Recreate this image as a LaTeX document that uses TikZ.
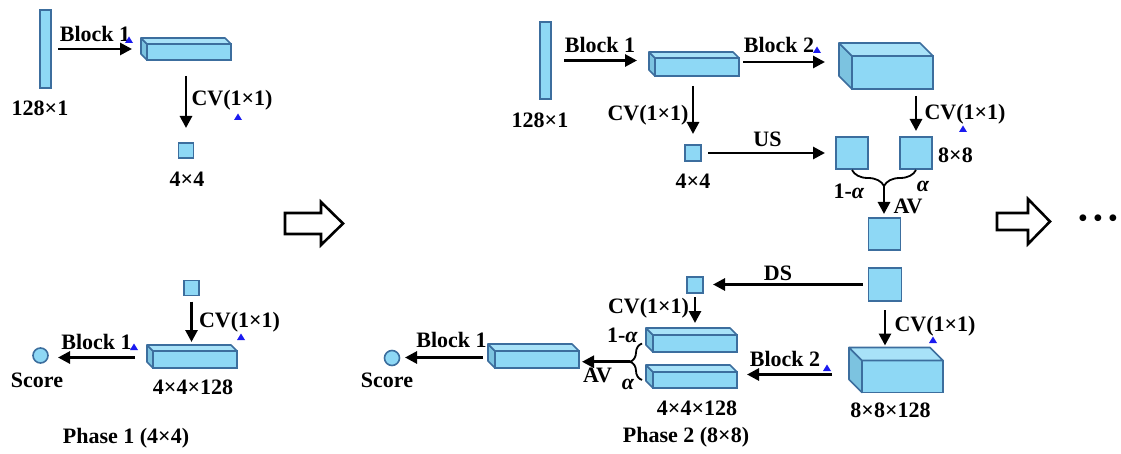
\documentclass[tikz,border=0pt]{standalone}
\usepackage{fontspec}
\setmainfont{Liberation Serif}
\usetikzlibrary{arrows.meta,decorations.pathreplacing,calc}
\definecolor{boxfill}{HTML}{8ED8F5}
\definecolor{boxtop}{HTML}{A8E2F8}
\definecolor{boxside}{HTML}{7CC3E0}
\definecolor{boxline}{HTML}{3C6E9E}
\definecolor{tricol}{HTML}{1A1AF0}
\tikzset{
 face/.style={draw=boxline, fill=boxfill, line width=1.6pt, inner sep=0pt, outer sep=0pt},
 topface/.style={draw=boxline, fill=boxtop, line width=1.6pt, line join=round},
 sideface/.style={draw=boxline, fill=boxside, line width=1.6pt, line join=round},
 arr/.style={line width=2.8pt, -{Triangle[length=12pt,width=12pt]}},
 lbl/.style={font=\bfseries\fontsize{22}{24}\selectfont, inner sep=0pt},
 brc/.style={line width=1.8pt, decorate, decoration={brace, amplitude=#1}},
 hollow/.style={draw=black, line width=2.6pt, fill=white, line join=miter},
 bluetri/.style={fill=tricol},
}
\newcommand{\cuboid}[6]{%
 \node[face, minimum width=#4pt, minimum height=#5pt] (#1) at (#2,#3) {};
 \draw[sideface] (#1.north west) -- ++(-#6,-#6) -- ++(0,#5) -- (#1.south west) -- cycle;
 \draw[topface] (#1.north west) -- ++(-#6,-#6) -- ++(#4,0) -- (#1.north east) -- cycle;
}
\newcommand{\btri}[2]{\fill[bluetri] (#1-4,#2+3) -- (#1+4,#2+3) -- (#1,#2-3.5) -- cycle;}
\begin{document}
\begin{tikzpicture}[x=1pt,y=-1pt]
\useasboundingbox[fill=white] (0,0) rectangle (1121,454);

% ---------------- Phase 1 ----------------
\node[face, minimum width=11pt, minimum height=78pt] (bar1) at (45.5,49) {};
\node[lbl] (t128a) at (40,108) {128×1};
\cuboid{slab1a}{189}{52}{84}{16}{6}
\node[face, minimum size=15pt] (sq1a) at (186,150.5) {};
\node[lbl] (t44a) at (187,179) {4×4};
\draw[arr, shorten <=7pt, shorten >=15pt] (bar1.east) -- (bar1.east -| slab1a.west);
\node[lbl] (tb1a) at (95,34) {Block 1};
\draw[arr, shorten <=16pt, shorten >=15pt] (sq1a.north |- slab1a.south) -- (sq1a.north);
\node[lbl] (tcv1a) at (232,100) {CV(1×1)};

\node[face, minimum size=15pt] (sq1b) at (191.5,288) {};
\cuboid{slab1b}{195}{359.5}{84}{17}{6}
\node[face, circle, minimum size=15pt] (sc1) at (40.5,355.5) {};
\draw[arr, shorten <=6pt, shorten >=9pt] (sq1b.south) -- (sq1b.south |- slab1b.north);
\node[lbl] (tcv1b) at (239.5,322) {CV(1×1)};
\draw[arr, shorten <=18pt, shorten >=10pt] ([yshift=2pt]slab1b.west) -- ([yshift=2pt]slab1b.west -| sc1.east);
\node[lbl] (tb1b) at (96.5,342) {Block 1};
\node[lbl] (t44128a) at (193,387) {4×4×128};
\node[lbl] (tsc1) at (37,380) {Score};
\node[lbl] (tph1) at (126,438) {Phase 1 (4×4)};

\btri{129}{40}
\btri{238}{117}
\btri{134}{347}
\btri{241}{337}

% hollow arrows
\draw[hollow] (285,213) -- (321,213) -- (321,202) -- (343,223.5) -- (321,245) -- (321,234) -- (285,234) -- cycle;
\draw[hollow] (997,213) -- (1028,213) -- (1028,199) -- (1050,221.5) -- (1028,244) -- (1028,230) -- (997,230) -- cycle;
\node[font=\bfseries\fontsize{25}{28}\selectfont, inner sep=0pt] (dots) at (1098,221) {• • •};

% ---------------- Phase 2 top ----------------
\node[face, minimum width=11pt, minimum height=77pt] (bar2) at (545.5,60.5) {};
\node[lbl] (t128b) at (540,120) {128×1};
\cuboid{slab2a}{697}{67}{84}{18}{6}
\cuboid{big2a}{892.5}{72.5}{81}{33}{13}
\node[face, minimum size=16pt] (sq2) at (693,153) {};
\node[face, minimum size=32pt] (sqA) at (852,153) {};
\node[face, minimum size=32pt] (sqB) at (916,153) {};
\node[face, minimum size=32pt] (sqC) at (884.5,234) {};
\node[face, minimum size=33pt] (sqD) at (885,284.5) {};

\draw[arr, shorten <=13pt, shorten >=18pt] (bar2.east) -- (bar2.east -| slab2a.west);
\node[lbl] (tb1c) at (600,45) {Block 1};
\draw[arr, shorten <=4pt, shorten >=27pt] ([yshift=5pt]slab2a.east) -- ([yshift=5pt]slab2a.east -| big2a.west);
\node[lbl] (tb2a) at (779,45) {Block 2};
\draw[arr, shorten <=10pt, shorten >=11pt] (sq2.north |- slab2a.south) -- (sq2.north);
\node[lbl] (tcv2a) at (648,115) {CV(1×1)};
\draw[arr, shorten <=7pt, shorten >=6pt] (sqB.north |- big2a.south) -- (sqB.north);
\node[lbl] (tcv2b) at (965,114) {CV(1×1)};
\node[lbl] (t44b) at (693,181) {4×4};
\draw[arr, shorten <=7pt, shorten >=11pt] (sq2.east) -- (sq2.east -| sqA.west);
\node[lbl] (tus) at (767.5,139) {US};
\node[lbl] (t88) at (955.5,155) {8×8};

\draw[brc=16pt, decoration={mirror}] ([yshift=-1pt]sqA.south) -- ([yshift=-1pt]sqB.south);
\coordinate (bt1) at ($(sqA.south)!0.5!(sqB.south)+(0,17)$);
\draw[arr, shorten >=4pt] (bt1) -- (bt1 |- sqC.north);
\node[lbl] (t1ma) at (849,191) {1-\textit{α}};
\node[lbl] (tala) at (923,186) {\textit{α}};
\node[lbl] (tava) at (908,206) {AV};

% ---------------- Phase 2 bottom ----------------
\node[face, minimum size=16pt] (sq3) at (695,285) {};
\cuboid{slab2b}{695}{343.5}{84}{17}{7}
\cuboid{slab2c}{695}{380}{84}{16}{7}
\cuboid{big2b}{902.5}{376.5}{81}{32}{13}
\cuboid{slab3}{537}{359.5}{84}{17}{7}
\node[face, circle, minimum size=15pt] (sc2) at (392,358) {};

\draw[arr, shorten <=6pt, shorten >=10pt] (sqD.west) -- (sqD.west -| sq3.east);
\node[lbl] (tds) at (778,273) {DS};
\draw[arr, shorten <=4pt, shorten >=12pt] (sq3.south) -- (sq3.south |- slab2b.north);
\node[lbl] (tcv2c) at (648.5,308) {CV(1×1)};
\draw[arr, shorten <=9pt, shorten >=15pt] (sqD.south) -- (sqD.south |- big2b.north);
\node[lbl] (tcv2d) at (935,326) {CV(1×1)};
\draw[arr, shorten <=30pt, shorten >=10pt] ([yshift=2pt]big2b.west) -- ([yshift=2pt]big2b.west -| slab2c.east);
\node[lbl] (tb2b) at (785,359) {Block 2};
\node[lbl] (t44128b) at (697,408) {4×4×128};
\node[lbl] (t88128) at (890.5,410) {8×8×128};

\draw[brc=12pt] ([xshift=-11pt]slab2c.west) -- ([xshift=-11pt]slab2b.west);
\coordinate (bt2) at ($(slab2b.west)!0.5!(slab2c.west)+(-23,0)$);
\draw[arr, shorten >=3pt] (bt2) -- (bt2 -| slab3.east);
\node[lbl] (t1mb) at (622.5,335) {1-\textit{α}};
\node[lbl] (talb) at (628,384) {\textit{α}};
\node[lbl] (tavb) at (597.5,375) {AV};

\draw[arr, shorten <=12pt, shorten >=5.5pt] ([yshift=2pt]slab3.west) -- ([yshift=2pt]slab3.west -| sc2.east);
\node[lbl] (tb1d) at (451.5,340) {Block 1};
\node[lbl] (tsc2) at (387,380) {Score};
\node[lbl] (tph2) at (686,437) {Phase 2 (8×8)};

\btri{817}{50}
\btri{963}{129}
\btri{827}{368}
\btri{933}{340}
\end{tikzpicture}
\end{document}
